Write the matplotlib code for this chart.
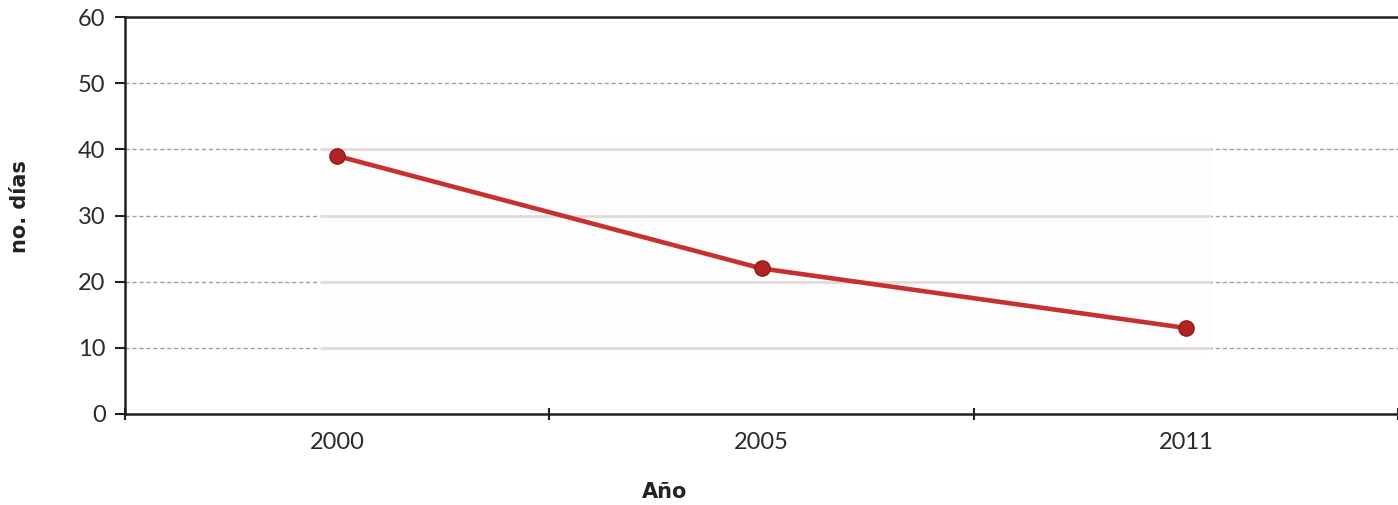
import matplotlib.pyplot as plt
import numpy as np

# data
years = ['2000', '2005', '2011']
dias = [39, 22, 13]
y_ticks = [0, 10, 20, 30, 40, 50, 60]

plt.rcParams['font.family'] = ['Lato', 'DejaVu Sans']

fig = plt.figure(figsize=(13.98, 5.05), dpi=100)
ax = fig.add_axes([125 / 1398, 1 - 414 / 505, 1 - 125 / 1398, (414 - 17) / 505])

x = np.arange(len(years))
ax.set_xlim(-0.5, len(years) - 0.5)
ax.set_ylim(0, 60)

# dashed grid
for yv in y_ticks[1:-1]:
    ax.axhline(yv, color='#a0a0a0', lw=1, ls=(0, (3, 2)), zorder=1)

# pasted-in picture band behind the line (solid soft grid inside)
ax.axvspan(-0.04, 2.06, ymin=9.2 / 60, ymax=41.3 / 60, color='#fdfdfd', zorder=2, lw=0)
for yv in y_ticks[1:5]:
    ax.plot([-0.04, 2.06], [yv, yv], color='#e3dada', lw=2, zorder=2.5, solid_capstyle='butt')

ax.plot(x, dias, color='#c8302e', lw=3.3, zorder=4,
        marker='o', markersize=11, markerfacecolor='#b22424', markeredgecolor='#8e1a1a')

tick_font = dict(fontsize=17, color='#2a2a2a', fontweight='normal')
ax.set_yticks(y_ticks)
ax.set_yticklabels([str(v) for v in y_ticks], **tick_font)
ax.set_xticks(np.arange(-0.5, len(years), 1.0))
ax.set_xticklabels([''] * len(np.arange(-0.5, len(years), 1.0)))
ax.set_xticks(x, minor=True)
ax.set_xticklabels(years, minor=True, **tick_font)
ax.tick_params(axis='x', which='major', length=8, width=1.5, direction='inout', color='#222222')
ax.tick_params(axis='x', which='minor', length=0, pad=13)
ax.tick_params(axis='y', length=7, width=1.5, color='#222222', pad=7)

for s in ['left', 'bottom', 'top']:
    ax.spines[s].set_linewidth(1.8)
    ax.spines[s].set_color('#222222')
ax.spines['right'].set_visible(False)

label_font = dict(fontsize=15, fontweight='bold', family='DejaVu Sans', color='#222222',
                  ha='center', va='center')
fig.text(20 / 1398, 1 - 207 / 505, 'no. días', rotation=90, **label_font)
fig.text(665 / 1398, 1 - 492 / 505, 'Año', **label_font)

fig.savefig('out.png', dpi=100)
